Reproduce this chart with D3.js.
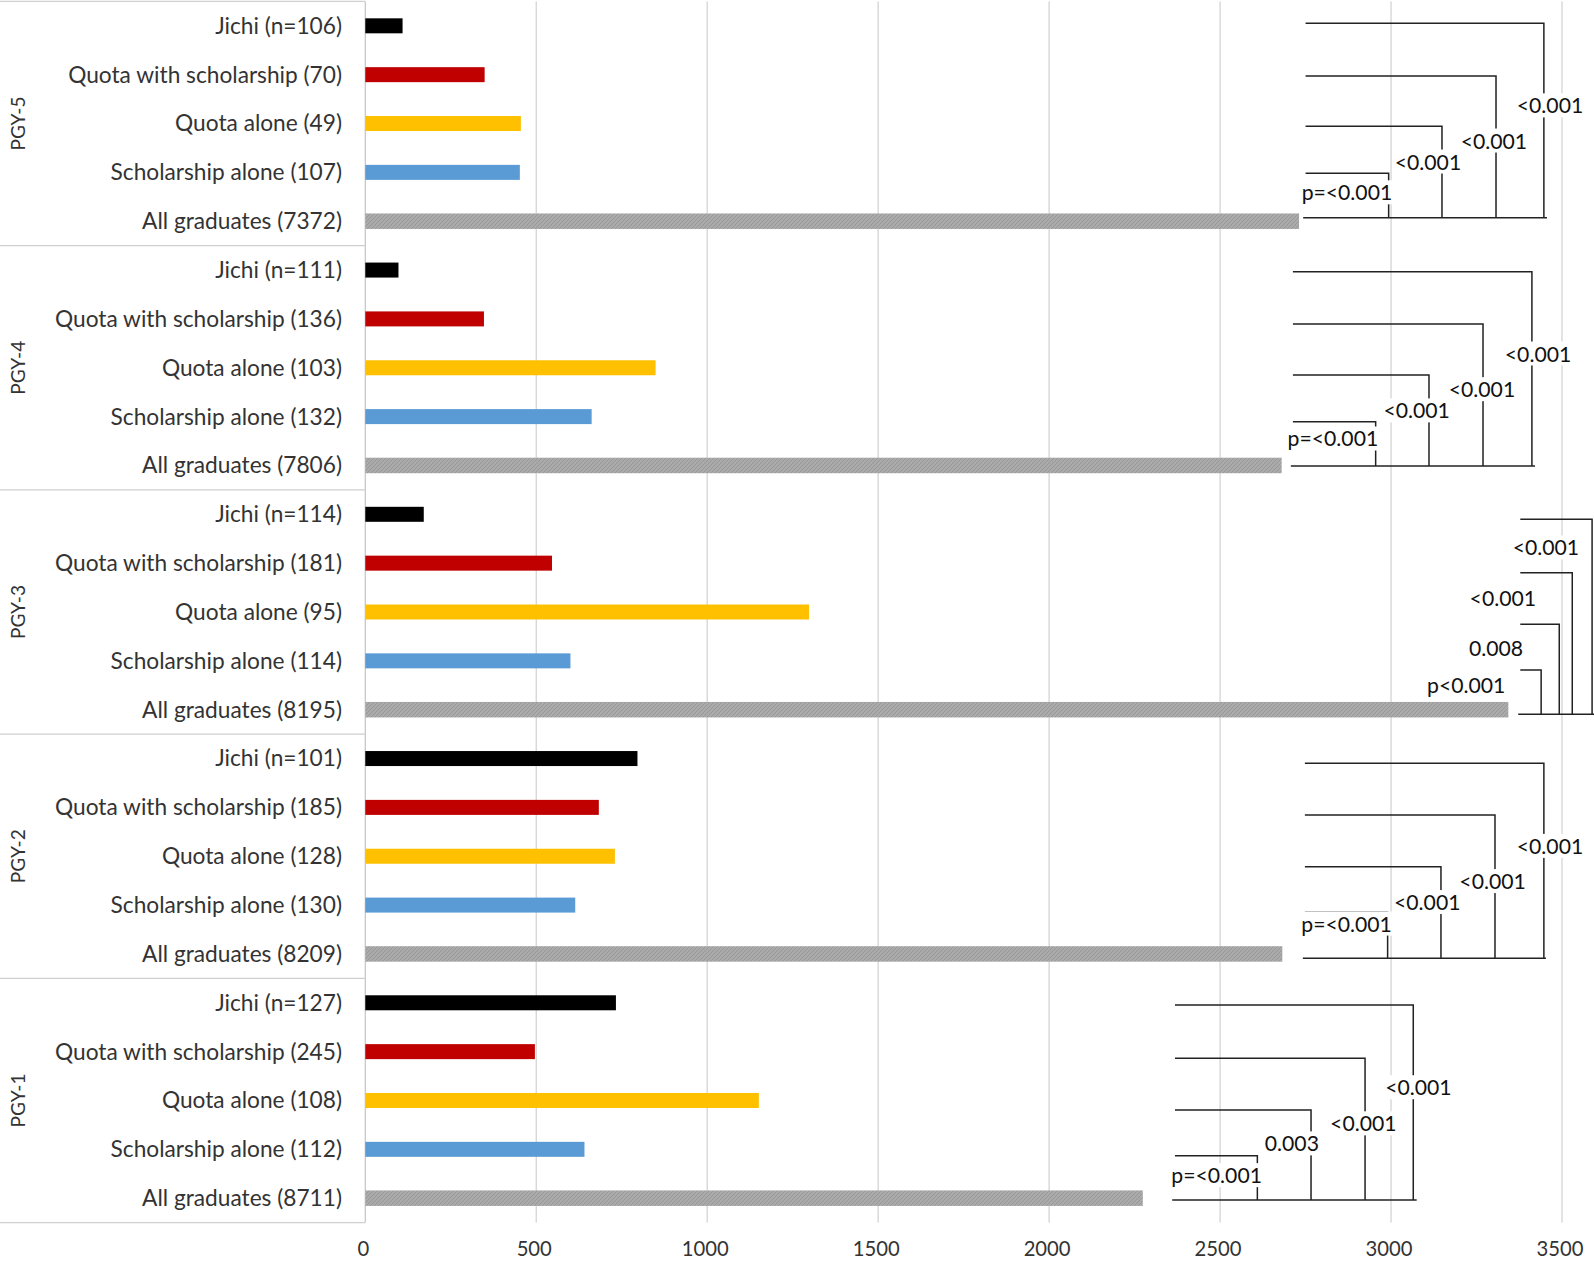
<!DOCTYPE html>
<html><head><meta charset="utf-8">
<script src="https://cdn.jsdelivr.net/npm/d3@7"></script>
<style>html,body{margin:0;padding:0;background:#fff;} svg{display:block;}</style>
</head><body><svg id="chart" width="1594" height="1262"></svg>
<script>
// ---------- DATA ----------
const groups = ["PGY-5", "PGY-4", "PGY-3", "PGY-2", "PGY-1"];
const seriesNames = ["Jichi", "Quota with scholarship", "Quota alone", "Scholarship alone", "All graduates"];
const categoryLabels = [
  ["Jichi (n=106)", "Quota with scholarship (70)", "Quota alone (49)", "Scholarship alone (107)", "All graduates (7372)"],
  ["Jichi (n=111)", "Quota with scholarship (136)", "Quota alone (103)", "Scholarship alone (132)", "All graduates (7806)"],
  ["Jichi (n=114)", "Quota with scholarship (181)", "Quota alone (95)", "Scholarship alone (114)", "All graduates (8195)"],
  ["Jichi (n=101)", "Quota with scholarship (185)", "Quota alone (128)", "Scholarship alone (130)", "All graduates (8209)"],
  ["Jichi (n=127)", "Quota with scholarship (245)", "Quota alone (108)", "Scholarship alone (112)", "All graduates (8711)"]
];
const jichi = [109, 97, 171, 796, 733];
const quotaWithScholarship = [349, 347, 546, 683, 496];
const quotaAlone = [455, 849, 1298, 730, 1151];
const scholarshipAlone = [452, 662, 600, 614, 641];
const allGraduates = [2731, 2680, 3343, 2682, 2274];
const tickValues = [0, 500, 1000, 1500, 2000, 2500, 3000, 3500];

// significance brackets (value units on x, row units on y)
const pLabels = [
  ["<0.001", "<0.001", "<0.001", "p=<0.001"],
  ["<0.001", "<0.001", "<0.001", "p=<0.001"],
  ["<0.001", "<0.001", "0.008", "p<0.001"],
  ["<0.001", "<0.001", "<0.001", "p=<0.001"],
  ["<0.001", "<0.001", "0.003", "p=<0.001"]
];
const bracketStart = [2750, 2713, 3378, 2748, 2368];
const bracketEnds = [
  [3447, 3307, 3149, 2993],
  [3412, 3269, 3111, 2955],
  [3588, 3530, 3492, 3439],
  [3447, 3304, 3146, 2990],
  [3065, 2924, 2766, 2609]
];
const bracketTops = [
  [0.448, 1.527, 2.557, 3.519],
  [5.533, 6.604, 7.648, 8.604],
  [10.602, 11.695, 12.751, 13.687],
  [15.597, 16.655, 17.713, 18.647],
  [20.544, 21.636, 22.694, 23.63]
];
const bracketBase = [4.428, 9.511, 14.594, 19.589, 24.536];
const bracketBaseExtent = [[2743, 3456], [2707, 3421], [3372, 3600], [2742, 3453], [2360, 3075]];
const pLabelX = [
  [3465, 3301, 3108, 2871],
  [3430, 3266, 3075, 2830],
  [3453, 3327, 3307, 3220],
  [3465, 3297, 3106, 2870],
  [3080, 2919, 2710, 2490]
];
const pLabelRow = [
  [2.14, 2.86, 3.29, 3.92],
  [7.22, 7.95, 8.385, 8.96],
  [11.19, 12.23, 13.24, 14.01],
  [17.30, 18.02, 18.45, 18.89],
  [22.24, 22.98, 23.39, 24.04]
];

// ---------- STYLE ----------
const colors = ["#000000", "#c00000", "#ffc000", "#5b9bd5", "url(#hatch)"];
const FONT = "Lato, 'Open Sans', sans-serif";

// ---------- BUILD ----------
const svg = d3.select("#chart");
svg.append("rect").attr("width", 1594).attr("height", 1262).attr("fill", "#fff");

const defs = svg.append("defs");
const pat = defs.append("pattern").attr("id", "hatch").attr("width", 4).attr("height", 4)
  .attr("patternUnits", "userSpaceOnUse");
pat.append("rect").attr("width", 4).attr("height", 4).attr("fill", "#aaaaaa");
pat.append("path").attr("d", "M0,4 L4,0 M-1,1 L1,-1 M3,5 L5,3").attr("stroke", "#989898").attr("stroke-width", 1);

function fit(sample, target) {
  const t = svg.append("text").attr("font-family", FONT).attr("font-size", 100).text(sample);
  const w = t.node().getComputedTextLength();
  t.remove();
  return 100 * target / w;
}
const fsCat = fit("Quota with scholarship (70)", 274);
const fsTick = fit("2000", 47);
const fsP = fit("<0.001", 66.5);
const fsGroup = fit("PGY-5", 54);

const x = d3.scaleLinear().domain([0, 3500]).range([365.3, 1562]);
const nRows = groups.length * seriesNames.length;
const y = d3.scaleLinear().domain([0, nRows]).range([1.4, 1222.6]);

// rows data
const seriesVals = [jichi, quotaWithScholarship, quotaAlone, scholarshipAlone, allGraduates];
const rows = [];
groups.forEach((g, gi) => {
  seriesNames.forEach((s, si) => {
    rows.push({group: g, gi, si, row: gi * 5 + si, label: categoryLabels[gi][si], value: seriesVals[si][gi]});
  });
});

// gridlines
svg.append("g").selectAll("line").data(tickValues.filter(d => d > 0)).join("line")
  .attr("x1", d => x(d)).attr("x2", d => x(d))
  .attr("y1", y(0)).attr("y2", y(nRows))
  .attr("stroke", "#d4d4d4").attr("stroke-width", 1.3);

// category axis line and group separators
svg.append("line").attr("x1", x(0)).attr("x2", x(0)).attr("y1", y(0)).attr("y2", y(nRows))
  .attr("stroke", "#c8c8c8").attr("stroke-width", 1.3);
svg.append("g").selectAll("line").data(d3.range(0, nRows + 1, 5)).join("line")
  .attr("x1", 0).attr("x2", x(0))
  .attr("y1", d => y(d)).attr("y2", d => y(d))
  .attr("stroke", "#d0d0d0").attr("stroke-width", 1.3);

// bars
svg.append("g").selectAll("rect").data(rows).join("rect")
  .attr("x", x(0))
  .attr("y", d => y(d.row + 0.5) - (d.si === 4 ? 7.75 : 7.5))
  .attr("width", d => x(d.value) - x(0))
  .attr("height", d => d.si === 4 ? 15.5 : 15)
  .attr("fill", d => colors[d.si]);

// category labels
svg.append("g").selectAll("text").data(rows).join("text")
  .attr("x", 342).attr("y", d => y(d.row + 0.5))
  .attr("dy", "0.35em")
  .attr("text-anchor", "end")
  .attr("font-family", FONT).attr("font-size", fsCat)
  .attr("fill", "#333")
  .text(d => d.label);

// group labels
svg.append("g").selectAll("text").data(groups).join("text")
  .attr("transform", (d, i) => `translate(18.5,${y(i * 5 + 2.5)}) rotate(-90)`)
  .attr("dy", "0.35em")
  .attr("text-anchor", "middle")
  .attr("font-family", FONT).attr("font-size", fsGroup)
  .attr("fill", "#333")
  .text(d => d);

// x tick labels
svg.append("g").selectAll("text").data(tickValues).join("text")
  .attr("x", d => x(d) - 2).attr("y", 1248.5)
  .attr("dy", "0.35em")
  .attr("text-anchor", "middle")
  .attr("font-family", FONT).attr("font-size", fsTick)
  .attr("fill", "#333")
  .text(d => d);

// brackets
const bg = svg.append("g").attr("fill", "none").attr("stroke", "#222").attr("stroke-width", 1.5);
groups.forEach((g, gi) => {
  const base = y(bracketBase[gi]);
  bracketEnds[gi].forEach((e, j) => {
    bg.append("path")
      .attr("d", `M${x(bracketStart[gi])},${y(bracketTops[gi][j])}H${x(e)}V${base}`);
  });
  bg.append("line")
    .attr("x1", x(bracketBaseExtent[gi][0])).attr("x2", x(bracketBaseExtent[gi][1]))
    .attr("y1", base).attr("y2", base);
});

// p-value labels with white boxes
const pg = svg.append("g");
groups.forEach((g, gi) => {
  pLabels[gi].forEach((lab, j) => {
    const cell = pg.append("g");
    const t = cell.append("text")
      .attr("x", x(pLabelX[gi][j])).attr("y", y(pLabelRow[gi][j]))
      .attr("dy", "0.35em")
      .attr("text-anchor", "middle")
      .attr("font-family", FONT).attr("font-size", fsP)
      .attr("fill", "#111")
      .text(lab);
    const b = t.node().getBBox();
    cell.insert("rect", "text")
      .attr("x", b.x - 2).attr("y", b.y + 1).attr("width", b.width + 4).attr("height", b.height - 2)
      .attr("fill", "#fff");
  });
});
</script></body></html>
